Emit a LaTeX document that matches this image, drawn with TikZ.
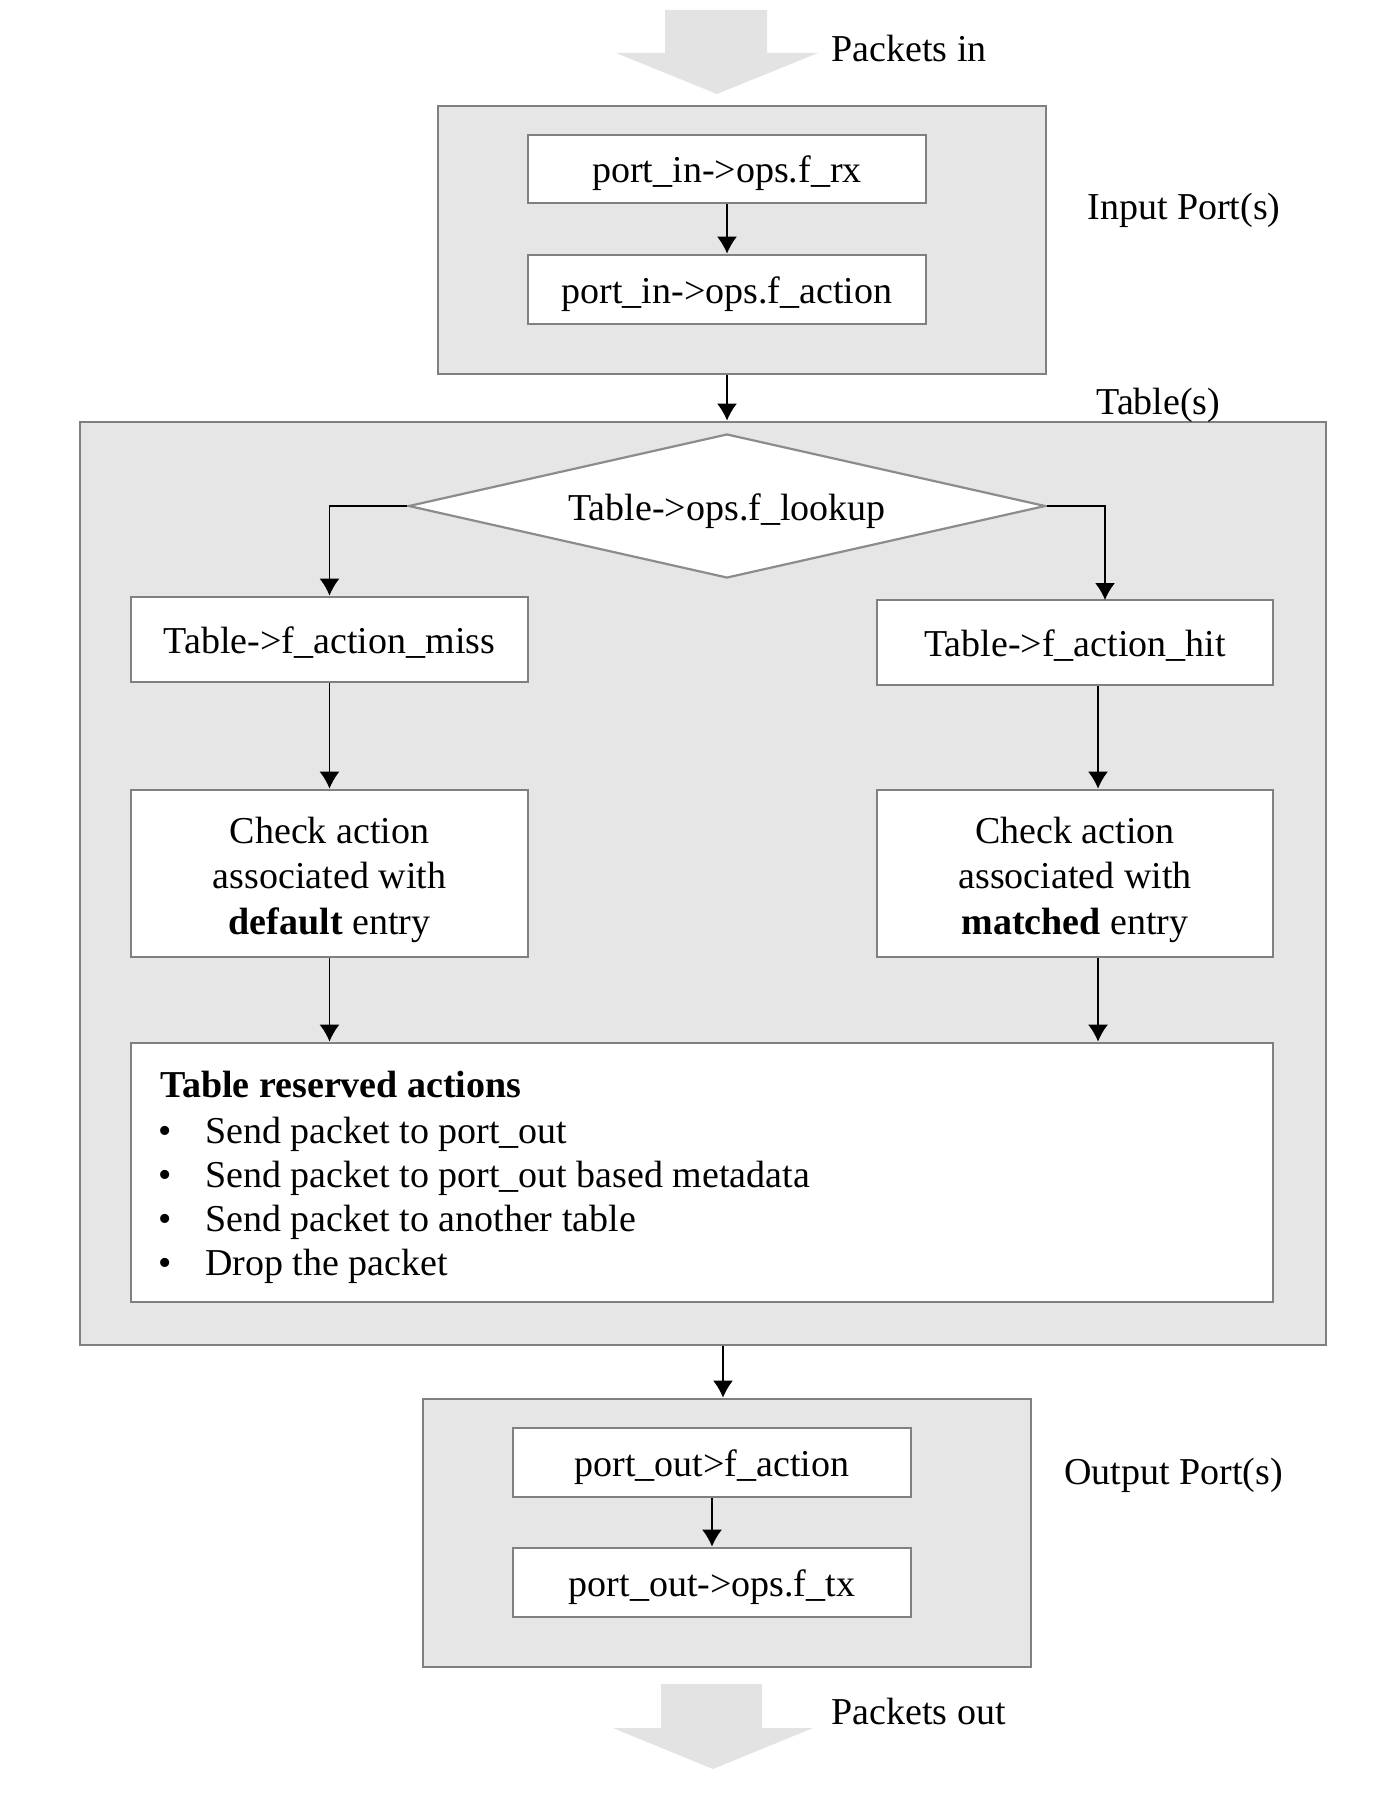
\documentclass[tikz,border=0pt]{standalone}
\usepackage{fontspec}
\setmainfont{Liberation Serif}
\usetikzlibrary{shapes.geometric,arrows.meta}
\definecolor{boxfill}{HTML}{E6E6E6}
\definecolor{edgegray}{HTML}{808080}
\definecolor{diagray}{HTML}{8C8C8C}
\definecolor{bigarrow}{HTML}{E3E3E3}
\tikzset{
  container/.style={draw=edgegray, line width=1.4pt, fill=boxfill, inner sep=0pt},
  whitebox/.style={draw=edgegray, line width=1.4pt, fill=white, inner sep=0pt, align=center,
    font=\fontsize{19}{22.75}\selectfont},
  oneline/.style={text height=18pt, text depth=4pt},
  threeline/.style={text height=64.5pt, text depth=4pt},
  decision/.style={diamond, draw=diagray, line width=1.1pt, fill=white, inner sep=0pt, aspect=4.42,
    font=\fontsize{19}{22}\selectfont, text height=18pt, text depth=4pt},
  label/.style={anchor=west, inner sep=0pt, font=\fontsize{19}{22}\selectfont},
  listtext/.style={anchor=base west, inner sep=0pt, font=\fontsize{19}{22}\selectfont},
  conn/.style={draw=black, line width=0.75pt, -{Latex[length=8.5pt,width=10pt]}},
}
\begin{document}
\begin{tikzpicture}[x=0.5pt, y=-0.5pt]
\useasboundingbox (0,0) rectangle (1386,1798);

% big input / output arrows
\fill[bigarrow] (665,10) -- (767,10) -- (767,53) -- (818,53) -- (717,94) -- (616,53) -- (665,53) -- cycle;
\fill[bigarrow] (661,1684) -- (762,1684) -- (762,1728) -- (813,1728) -- (713,1769) -- (613,1728) -- (661,1728) -- cycle;
\node[label] (pin) at (831,49) {Packets in};
\node[label] (pout) at (831,1711) {Packets out};

% input ports
\node[container, minimum width=304pt, minimum height=134pt] (inbox) at (742,240) {};
\node[whitebox, oneline, minimum width=199pt, minimum height=34pt] (rx) at (727,169) {port\_in->ops.f\_rx};
\node[whitebox, oneline, minimum width=199pt, minimum height=34.5pt] (inact) at (727,289.5) {port\_in->ops.f\_action};
\node[label] (inlab) at (1087,210) {Input Port(s)};

% tables
\node[container, minimum width=623pt, minimum height=461.5pt] (tbl) at (703,883.5) {};
\node[label] (tbllab) at (1096,405) {Table(s)};
\node[decision, minimum width=318.5pt, minimum height=72pt] (lookup) at (727,506) {Table->ops.f\_lookup};
\node[whitebox, oneline, minimum width=198.5pt, minimum height=42.5pt] (miss) at (329.5,639.5) {Table->f\_action\_miss};
\node[whitebox, oneline, minimum width=198pt, minimum height=42.5pt] (hit) at (1075,642.5) {Table->f\_action\_hit};
\node[whitebox, threeline, minimum width=198.5pt, minimum height=83.5pt] (dflt) at (329.5,873.5) {Check action\\associated with\\\textbf{default} entry};
\node[whitebox, threeline, minimum width=198pt, minimum height=83.5pt] (mtch) at (1075,873.5) {Check action\\associated with\\\textbf{matched} entry};
\node[whitebox, minimum width=571pt, minimum height=129.5pt] (resv) at (702,1172.5) {};
\node[listtext] (rhead) at (160,1097) {\textbf{Table reserved actions}};
\node[listtext] (bl1) at (158,1143) {\textbullet};
\node[listtext] (it1) at (205,1143) {Send packet to port\_out};
\node[listtext] (bl2) at (158,1187) {\textbullet};
\node[listtext] (it2) at (205,1187) {Send packet to port\_out based metadata};
\node[listtext] (bl3) at (158,1231) {\textbullet};
\node[listtext] (it3) at (205,1231) {Send packet to another table};
\node[listtext] (bl4) at (158,1275) {\textbullet};
\node[listtext] (it4) at (205,1275) {Drop the packet};

% output ports
\node[container, minimum width=304pt, minimum height=134pt] (outbox) at (727,1533) {};
\node[whitebox, oneline, minimum width=199pt, minimum height=34.5pt] (outact) at (712,1462.5) {port\_out>f\_action};
\node[whitebox, oneline, minimum width=199pt, minimum height=34.5pt] (tx) at (712,1582.5) {port\_out->ops.f\_tx};
\node[label] (outlab) at (1064,1475) {Output Port(s)};

% connectors
\coordinate (hitin) at (1105,600);
\coordinate (hitx) at (1098,642.5);
\coordinate (tblx) at (723,883.5);
\draw[conn] (rx.south) -- (inact.north);
\draw[conn] (inbox.south -| rx.south) -- (tbl.north -| rx.south);
\draw[conn] (lookup.west) -| (miss.north);
\draw[conn] (lookup.east) -| (hitin);
\draw[conn] (miss.south) -- (dflt.north);
\draw[conn] (hit.south -| hitx) -- (mtch.north -| hitx);
\draw[conn] (dflt.south) -- (resv.north -| dflt.south);
\draw[conn] (mtch.south -| hitx) -- (resv.north -| hitx);
\draw[conn] (tbl.south -| tblx) -- (outbox.north -| tblx);
\draw[conn] (outact.south) -- (tx.north);
\end{tikzpicture}
\end{document}
